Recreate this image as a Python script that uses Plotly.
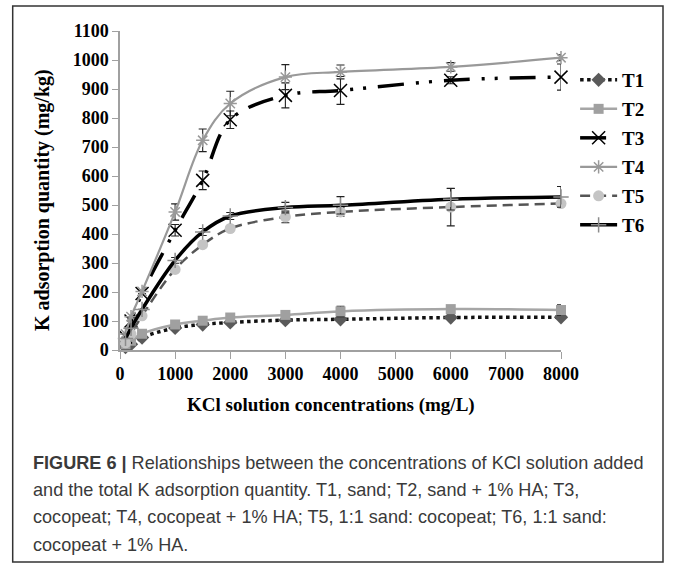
import plotly.graph_objects as go

# ---- data ----
conc = [100, 200, 400, 1000, 1500, 2000, 3000, 4000, 6000, 8000]
T1 = [10, 20, 43, 76, 88, 95, 103, 106, 112, 113]
T2 = [20, 32, 56, 88, 101, 112, 121, 133, 141, 138]
T3 = [45, 100, 195, 413, 585, 794, 878, 895, 930, 941]
T4 = [55, 115, 202, 476, 723, 850, 941, 959, 976, 1008]
T5 = [25, 55, 118, 278, 363, 419, 459, 476, 493, 505]
T6 = [40, 75, 140, 309, 407, 462, 491, 499, 520, 528]

E1 = [0, 0, 0, 0, 0, 0, 0, 0, 0, 0]
E2 = [0, 0, 0, 0, 0, 0, 0, 18, 0, 18]
E3 = [0, 0, 0, 20, 32, 30, 43, 48, 12, 45]
E4 = [0, 0, 0, 28, 39, 42, 43, 24, 15, 10]
E5 = [0, 0, 0, 0, 0, 0, 20, 15, 65, 10]
E6 = [0, 0, 0, 10, 12, 12, 18, 30, 37, 36]

names = ["T1", "T2", "T3", "T4", "T5", "T6"]
x_ticks = [0, 1000, 2000, 3000, 4000, 5000, 6000, 7000, 8000]
y_ticks = list(range(0, 1101, 100))

caption_lines = [
    "<b>FIGURE 6 |</b> Relationships between the concentrations of KCl solution added",
    "and the total K adsorption quantity. T1, sand; T2, sand + 1% HA; T3,",
    "cocopeat; T4, cocopeat + 1% HA; T5, 1:1 sand: cocopeat; T6, 1:1 sand:",
    "cocopeat + 1% HA.",
]

styles = {
    "T1": dict(line=dict(color="#111111", width=3.5, dash="3.5px,3.5px"),
               marker=dict(symbol="diamond", size=11, color="#5a5a5a")),
    "T2": dict(line=dict(color="#a6a6a6", width=2.5),
               marker=dict(symbol="square", size=10, color="#a0a0a0")),
    "T3": dict(line=dict(color="#000000", width=3.5, dash="26px,12px,3px,10px,3px,12px"),
               marker=dict(symbol="x-thin-open", size=13, color="#000000", line=dict(width=1.5, color="#000000"))),
    "T4": dict(line=dict(color="#999999", width=2.2),
               marker=dict(symbol="asterisk-open", size=11, color="#999999", line=dict(width=1.5, color="#999999"))),
    "T5": dict(line=dict(color="#555555", width=2.5, dash="10px,6px"),
               marker=dict(symbol="circle", size=11, color="#c4c4c4")),
    "T6": dict(line=dict(color="#000000", width=3.5),
               marker=dict(symbol="cross-thin-open", size=11, color="#8c8c8c", line=dict(width=1.5, color="#8c8c8c"))),
}

series = {"T1": (T1, E1), "T2": (T2, E2), "T3": (T3, E3),
          "T4": (T4, E4), "T5": (T5, E5), "T6": (T6, E6)}

fig = go.Figure()
for n in names:
    vals, errs = series[n]
    st = styles[n]
    line = dict(st["line"])
    line["shape"] = "spline"
    line["smoothing"] = 1.0
    fig.add_trace(go.Scatter(
        x=conc, y=vals, name=n, mode="lines+markers",
        line=line, marker=st["marker"], legendgroup=n,
        error_y=dict(type="data", array=errs, visible=True,
                     color="#222222", thickness=1.1, width=4),
        cliponaxis=False,
    ))

serif = "Liberation Serif"
fig.update_layout(
    width=675, height=563,
    margin=dict(l=120, r=114, t=31, b=213, pad=0, autoexpand=False),
    paper_bgcolor="white", plot_bgcolor="white",
    showlegend=True,
    legend=dict(x=1.032, y=0.906, xanchor="left", yanchor="top",
                font=dict(family=serif, size=19, color="#000000", weight="bold"),
                tracegroupgap=1.3, itemwidth=37, bgcolor="rgba(0,0,0,0)"),
    font=dict(family=serif, color="#000000"),
)
fig.update_xaxes(range=[0, 8000], tickvals=x_ticks, ticktext=[str(v) for v in x_ticks],
                 showgrid=False, zeroline=False, showline=True, linecolor="#a0a0a0", linewidth=1.5,
                 ticks="outside", ticklen=7, tickcolor="#a0a0a0", tickwidth=1.2,
                 tickfont=dict(family=serif, size=18, color="#000000", weight="bold"))
fig.update_yaxes(range=[0, 1100], tickvals=y_ticks, ticktext=[str(v) for v in y_ticks],
                 showgrid=False, zeroline=False, showline=True, linecolor="#a0a0a0", linewidth=1.5,
                 ticks="outside", ticklen=6, tickcolor="#a0a0a0", tickwidth=1.2,
                 tickfont=dict(family=serif, size=18, color="#000000", weight="bold"))

# axis titles
fig.add_annotation(x=-0.177, y=0.47, xref="paper", yref="paper", text="K adsorption quantity (mg/kg)",
                   textangle=-90, showarrow=False, xanchor="center", yanchor="middle",
                   font=dict(family=serif, size=20, color="#000000", weight="bold"))
fig.add_annotation(x=0.478, y=-0.172, xref="paper", yref="paper", text="KCl solution concentrations (mg/L)",
                   showarrow=False, xanchor="center", yanchor="middle",
                   font=dict(family=serif, size=19, color="#000000", weight="bold"))

# caption
cap_y = [463, 490, 517, 545]
for txt, py in zip(caption_lines, cap_y):
    fig.add_annotation(x=(30.7 - 120) / 441, y=(350 - py) / 319, xref="paper", yref="paper",
                       text=txt, showarrow=False, xanchor="left", yanchor="middle",
                       font=dict(family="Liberation Sans", size=18.1, color="#3a3a3a"))

# figure frame
fig.add_shape(type="rect", xref="paper", yref="paper",
              x0=(12.7 - 120) / 441, x1=(663 - 120) / 441,
              y0=(350 - 562) / 319, y1=(350 - 6) / 319,
              line=dict(color="#333333", width=1.5), fillcolor="rgba(0,0,0,0)", layer="below")

fig.write_html("out.html")
